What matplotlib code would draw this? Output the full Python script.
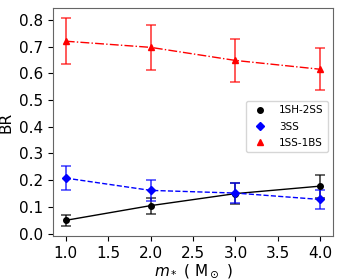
import matplotlib
matplotlib.use('Agg')
import matplotlib.pyplot as plt

mass = [1.0, 2.0, 3.0, 4.0]

# branching ratios and their errors
br_1sh2ss = [0.050, 0.105, 0.150, 0.178]
err_1sh2ss = [0.020, 0.030, 0.038, 0.043]
br_3ss = [0.208, 0.162, 0.152, 0.128]
err_3ss = [0.045, 0.040, 0.038, 0.036]
br_1ss1bs = [0.720, 0.697, 0.648, 0.615]
err_1ss1bs = [0.085, 0.083, 0.080, 0.078]

fig = plt.figure(figsize=(3.42, 2.8), dpi=100)
ax = fig.add_axes([0.155, 0.157, 0.819, 0.814])

ax.errorbar(mass, br_1sh2ss, yerr=err_1sh2ss, color='black', ls='-', lw=1,
            marker='o', ms=4, capsize=3.5, elinewidth=1.3, capthick=1.2,
            ecolor=(0, 0, 0, 0.7), label='1SH-2SS')
ax.errorbar(mass, br_3ss, yerr=err_3ss, color='blue', ls='--', lw=1,
            marker='D', ms=4, capsize=3.5, elinewidth=1.3, capthick=1.2,
            ecolor=(0, 0, 1, 0.7), label='3SS')
ax.errorbar(mass, br_1ss1bs, yerr=err_1ss1bs, color='red', ls='-.', lw=1,
            marker='^', ms=4, capsize=3.5, elinewidth=1.3, capthick=1.2,
            ecolor=(1, 0, 0, 0.7), label='1SS-1BS')

handles = [plt.Line2D([], [], color='black', marker='o', ls='none', ms=4),
           plt.Line2D([], [], color='blue', marker='D', ls='none', ms=4),
           plt.Line2D([], [], color='red', marker='^', ls='none', ms=4)]
ax.legend(handles, ['1SH-2SS', '3SS', '1SS-1BS'], loc='center right',
          bbox_to_anchor=(1.0, 0.48), fontsize=7.5, handlelength=2,
          labelspacing=0.6)

ax.set_xticks([1.0, 1.5, 2.0, 2.5, 3.0, 3.5, 4.0])
ax.set_yticks([0.0, 0.1, 0.2, 0.3, 0.4, 0.5, 0.6, 0.7, 0.8])
ax.tick_params(labelsize=11)
ax.set_xlabel(r'$m_*$ ( M$_\odot$ )', fontsize=11, labelpad=1)
ax.set_ylabel('BR', fontsize=11)
for s in ax.spines.values():
    s.set_color('0.4')

fig.savefig('out.png', dpi=100)
